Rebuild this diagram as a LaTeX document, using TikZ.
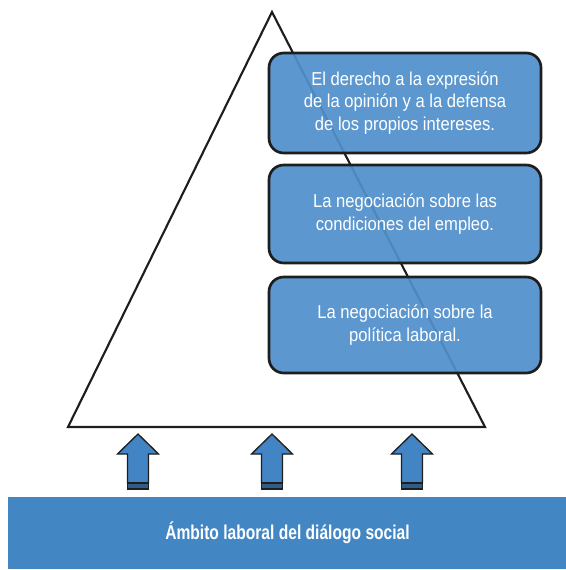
\documentclass[tikz,border=0pt]{standalone}
\usepackage{fontspec}
\setmainfont{Liberation Sans}
\newfontfamily\boxfont[FakeStretch=0.89]{Liberation Sans}
\newfontfamily\bandfont[FakeStretch=0.78]{Liberation Sans}
\definecolor{boxblue}{RGB}{80,143,203}
\definecolor{bandblue}{RGB}{66,134,196}
\definecolor{arrowblue}{RGB}{67,132,196}
\definecolor{edge}{RGB}{30,30,30}
\begin{document}
\begin{tikzpicture}[x=0.75pt,y=-0.75pt,
  levelbox/.style={draw=edge,line width=2pt,rounded corners=11pt,fill=boxblue,fill opacity=0.93,text opacity=1,
    minimum width=272*0.75pt,align=center,text=white,font=\boxfont\fontsize{14}{16.9}\selectfont,inner sep=0pt},
  uparrow/.style={draw=edge,line width=1pt,fill=arrowblue}]
\useasboundingbox (0,0) rectangle (566,570);
% triangle
\draw[line width=1.6pt,edge] (272,12) -- (485,427) -- (68,427) -- cycle;
% boxes
\node[levelbox,minimum height=100*0.75pt] (b1) at (405,103) {El derecho a la expresión\\de la opinión y a la defensa\\de los propios intereses.};
\node[levelbox,minimum height=98*0.75pt] (b2) at (405,214) {La negociación sobre las\\condiciones del empleo.};
\node[levelbox,minimum height=96*0.75pt] (b3) at (405,325) {La negociación sobre la\\política laboral.};
% band
\node[fill=bandblue,minimum width=559*0.75pt,minimum height=72*0.75pt,inner sep=0pt,text=white,
  font=\bandfont\bfseries\fontsize{15}{18}\selectfont] (band) at (287.5,533) {Ámbito laboral del diálogo social};
% arrows
\foreach \cx/\nm in {138/a1,272/a2,412/a3}{
  \coordinate (\nm) at (\cx,434);
  \draw[uparrow] (\nm) -- ++(20.5,20) -- ++(-10,0) -- ++(0,29) -- ++(-21,0) -- ++(0,-29) -- ++(-10,0) -- cycle;
  \draw[draw=edge,line width=1pt,fill=arrowblue!70!black] ([xshift=-10.5*0.75pt,yshift=-49*0.75pt]\nm) rectangle ([xshift=10.5*0.75pt,yshift=-55*0.75pt]\nm);
}
\end{tikzpicture}
\end{document}
